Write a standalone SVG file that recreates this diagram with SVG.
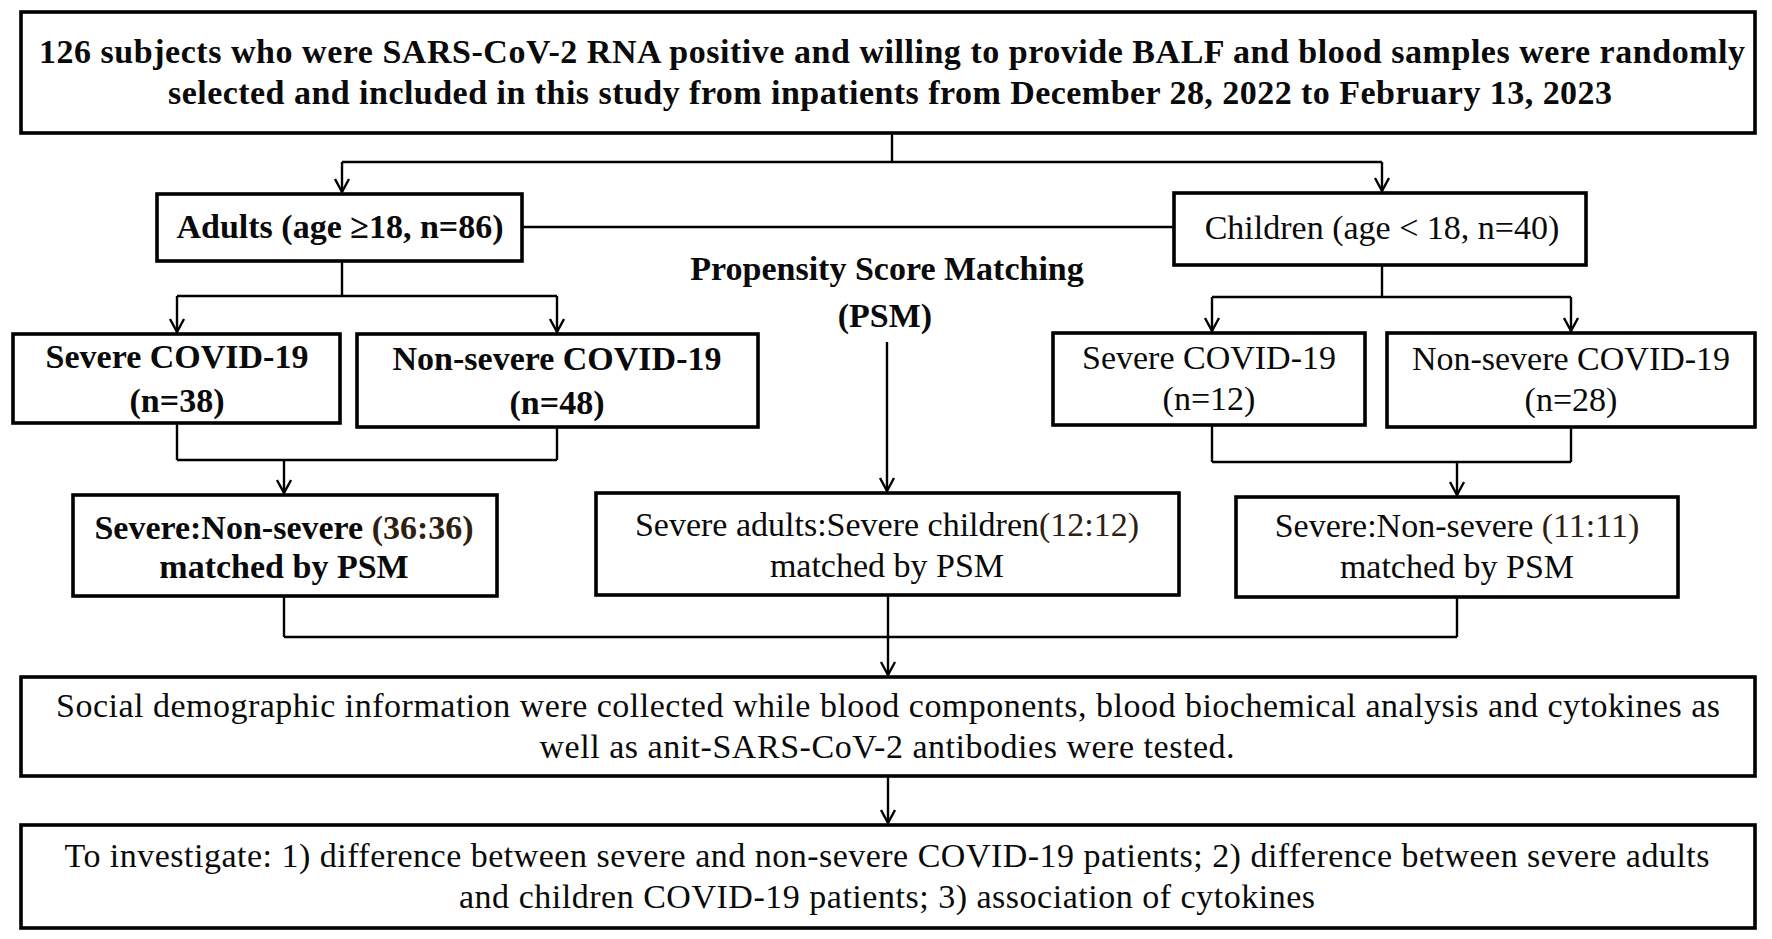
<svg xmlns="http://www.w3.org/2000/svg" width="1772" height="939" viewBox="0 0 1772 939">
<style>
.box{fill:#fff;stroke:#000;stroke-width:3.6}
.t{font-family:"Liberation Serif","Times New Roman",serif;font-size:34px;fill:#0a0a0a;text-anchor:middle}
.b{font-weight:bold}
.r{font-weight:normal}
.n{fill:#2e2010}
.c{fill:none;stroke:#000;stroke-width:2.4}
.a{marker-end:url(#arr)}
</style>
<defs>
<marker id="arr" markerUnits="userSpaceOnUse" viewBox="-14 -9 16 18" markerWidth="16" markerHeight="18" refX="0" refY="0" orient="auto" overflow="visible">
<path d="M-13,-7 L0,0 L-13,7" fill="none" stroke="#000" stroke-width="2.4"/>
</marker>
</defs>
<rect width="1772" height="939" fill="#fff"/>
<g id="connectors">
<path class="c" d="M892,133 V162 M342,162 H1382"/>
<path class="c a" d="M342,162 V192"/>
<path class="c a" d="M1382,162 V191"/>
<path class="c" d="M522,227 H1174"/>
<path class="c" d="M342,261 V296 M177,296 H557"/>
<path class="c a" d="M177,296 V332"/>
<path class="c a" d="M557,296 V332"/>
<path class="c" d="M177,423 V460 M557,427 V460 M177,460 H557"/>
<path class="c a" d="M284,460 V493"/>
<path class="c a" d="M887,342 V491"/>
<path class="c" d="M1382,265 V297 M1212,297 H1571"/>
<path class="c a" d="M1212,297 V331"/>
<path class="c a" d="M1571,297 V331"/>
<path class="c" d="M1212,425 V462 M1571,427 V462 M1212,462 H1571"/>
<path class="c a" d="M1457,462 V495"/>
<path class="c" d="M284,596 V637 M888,595 V637 M1457,597 V637 M284,637 H1457"/>
<path class="c a" d="M888,637 V675"/>
<path class="c a" d="M888,776 V823"/>
</g>
<g id="top">
<rect class="box" x="21" y="12" width="1734" height="121"/>
<text class="t b" font-size="35" x="892" y="63" textLength="1706">126 subjects who were SARS-CoV-2 RNA positive and willing to provide BALF and blood samples were randomly</text>
<text class="t b" font-size="35" x="890" y="104" textLength="1444">selected and included in this study from inpatients from December 28, 2022 to February 13, 2023</text>
</g>
<g id="adults">
<rect class="box" x="157" y="194" width="365" height="67"/>
<text class="t b" x="340" y="238">Adults (age ≥18, n=86)</text>
</g>
<g id="children">
<rect class="box" x="1174" y="193" width="412" height="72"/>
<text class="t r" x="1382" y="239">Children (age &lt; 18, n=40)</text>
</g>
<g id="psm">
<text class="t b" font-size="35" x="887" y="280">Propensity Score Matching</text>
<text class="t b" font-size="35" x="885" y="327">(PSM)</text>
</g>
<g id="severe-adults">
<rect class="box" x="13" y="334" width="327" height="89"/>
<text class="t b" x="177" y="368">Severe COVID-19</text>
<text class="t b" x="177" y="412">(n=38)</text>
</g>
<g id="nonsevere-adults">
<rect class="box" x="357" y="334" width="401" height="93"/>
<text class="t b" x="557" y="370">Non-severe COVID-19</text>
<text class="t b" x="557" y="414">(n=48)</text>
</g>
<g id="severe-children">
<rect class="box" x="1053" y="333" width="312" height="92"/>
<text class="t r" x="1209" y="369">Severe COVID-19</text>
<text class="t r" x="1209" y="410">(n=12)</text>
</g>
<g id="nonsevere-children">
<rect class="box" x="1387" y="333" width="368" height="94"/>
<text class="t r" x="1571" y="370">Non-severe COVID-19</text>
<text class="t r" x="1571" y="411">(n=28)</text>
</g>
<g id="matched-adults">
<rect class="box" x="73" y="495" width="424" height="101"/>
<text class="t b" x="284" y="539">Severe:Non-severe <tspan class="n">(36:36)</tspan></text>
<text class="t b" x="284" y="578">matched by PSM</text>
</g>
<g id="matched-severe">
<rect class="box" x="596" y="493" width="583" height="102"/>
<text class="t r" font-size="35" x="887" y="536">Severe adults:Severe children<tspan class="n">(12:12)</tspan></text>
<text class="t r" font-size="35" x="887" y="577">matched by PSM</text>
</g>
<g id="matched-children">
<rect class="box" x="1236" y="497" width="442" height="100"/>
<text class="t r" font-size="35" x="1457" y="537">Severe:Non-severe <tspan class="n">(11:11)</tspan></text>
<text class="t r" font-size="35" x="1457" y="578">matched by PSM</text>
</g>
<g id="collected">
<rect class="box" x="21" y="677" width="1734" height="99"/>
<text class="t r" x="888" y="717" textLength="1664">Social demographic information were collected while blood components, blood biochemical analysis and cytokines as</text>
<text class="t r" x="887" y="758" textLength="695">well as anit-SARS-CoV-2 antibodies were tested.</text>
</g>
<g id="investigate">
<rect class="box" x="21" y="825" width="1734" height="103"/>
<text class="t r" x="887" y="867" textLength="1645">To investigate: 1) difference between severe and non-severe COVID-19 patients; 2) difference between severe adults</text>
<text class="t r" x="887" y="908" textLength="856">and children COVID-19 patients; 3) association of cytokines</text>
</g>
</svg>
